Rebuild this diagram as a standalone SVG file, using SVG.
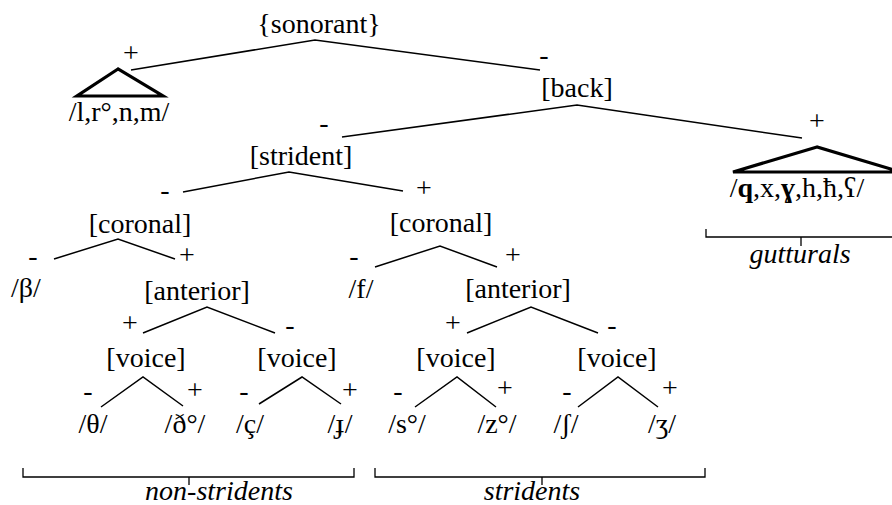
<svg xmlns="http://www.w3.org/2000/svg" width="892" height="505" viewBox="0 0 892 505">
<style>
text{font-size:28px;fill:#000;text-anchor:middle}
.it{font-style:italic}
.b{font-weight:bold}
.ln{stroke:#000;stroke-width:1.5;fill:none}
.tri{stroke:#000;stroke-width:3.2;fill:none;stroke-linejoin:miter}
.br{stroke:#000;stroke-width:1.3;fill:none}
</style>
<rect width="892" height="505" fill="#fff"/>
<g id="connectors">
<polyline class="ln" points="131,70 315,40 540,70"/>
<polyline class="ln" points="342,137 577,105 802,138"/>
<polyline class="ln" points="183,192 289,172 403,191"/>
<polyline class="ln" points="54,259 118,239 175,259"/>
<polyline class="ln" points="375,267 440,246 497,267"/>
<polyline class="ln" points="143,333 207,307 275,333"/>
<polyline class="ln" points="467,333 531,307 598,333"/>
<polyline class="ln" points="101,407 143,377 183,406"/>
<polyline class="ln" points="259,404 302,377 341,404"/>
<polyline class="ln" points="415,407 457,377 496,407"/>
<polyline class="ln" points="578,407 618,377 658,407"/>
</g>
<g font-family="Liberation Serif, Times New Roman, DejaVu Serif, serif">
<g id="sonorant"><text x="319" y="33">{sonorant}</text></g>
<g id="son-plus"><text x="131" y="62">+</text></g>
<g id="son-minus"><text x="544" y="64">-</text></g>
<g id="sonorants"><polygon class="tri" points="118,69 77,96 163,96"/><text x="119" y="121">/l,r°,n,m/</text></g>
<g id="back"><text x="577" y="97">[back]</text></g>
<g id="back-minus"><text x="324" y="132">-</text></g>
<g id="back-plus"><text x="817" y="130">+</text></g>
<g id="gutturals-node"><polygon class="tri" points="817,147 733,172 901,172"/><text x="797" y="197">/<tspan class="b">q</tspan>,x,<tspan class="b">ɣ</tspan>,h,ħ,ʕ/</text></g>
<g id="strident"><text x="301" y="165">[strident]</text></g>
<g id="str-minus"><text x="165" y="199">-</text></g>
<g id="str-plus"><text x="424" y="197">+</text></g>
<g id="coronal1"><text x="140" y="233">[coronal]</text></g>
<g id="cor1-minus"><text x="33" y="265">-</text></g>
<g id="cor1-plus"><text x="187" y="264">+</text></g>
<g id="beta"><text x="26" y="297">/β/</text></g>
<g id="coronal2"><text x="441" y="232">[coronal]</text></g>
<g id="cor2-minus"><text x="354" y="265">-</text></g>
<g id="cor2-plus"><text x="513" y="264">+</text></g>
<g id="f"><text x="361" y="298">/f/</text></g>
<g id="anterior1"><text x="197" y="300">[anterior]</text></g>
<g id="ant1-plus"><text x="130" y="332">+</text></g>
<g id="ant1-minus"><text x="290" y="334">-</text></g>
<g id="anterior2"><text x="518" y="298">[anterior]</text></g>
<g id="ant2-plus"><text x="453" y="332">+</text></g>
<g id="ant2-minus"><text x="612" y="334">-</text></g>
<g id="voice1"><text x="146" y="367">[voice]</text></g>
<g id="voice2"><text x="297" y="367">[voice]</text></g>
<g id="voice3"><text x="456" y="367">[voice]</text></g>
<g id="voice4"><text x="617" y="367">[voice]</text></g>
<g id="v-signs">
<text x="88" y="400">-</text><text x="195" y="399">+</text>
<text x="244" y="400">-</text><text x="350" y="399">+</text>
<text x="398" y="400">-</text><text x="505" y="397">+</text>
<text x="567" y="400">-</text><text x="670" y="397">+</text>
</g>
<g id="theta"><text x="93" y="433">/θ/</text></g>
<g id="eth"><text x="185" y="433">/ð°/</text></g>
<g id="c-cedilla"><text x="250" y="433">/ç/</text></g>
<g id="j-bar"><text x="340" y="433">/ɟ/</text></g>
<g id="s"><text x="407" y="433">/s°/</text></g>
<g id="z"><text x="497" y="433">/z°/</text></g>
<g id="esh"><text x="566" y="433">/ʃ/</text></g>
<g id="ezh"><text x="662" y="433">/ʒ/</text></g>
<g id="non-stridents">
<path class="br" d="M23,468 V477 H354 V468 M189,477 V485"/>
<text class="it" x="219" y="500">non-stridents</text>
</g>
<g id="stridents">
<path class="br" d="M375,468 V477 H705 V468 M542,477 V485"/>
<text class="it" x="532" y="500">stridents</text>
</g>
<g id="gutturals">
<path class="br" d="M706,229 V237 H900 M801,237 V246"/>
<text class="it" x="800" y="263">gutturals</text>
</g>
</g>
</svg>
